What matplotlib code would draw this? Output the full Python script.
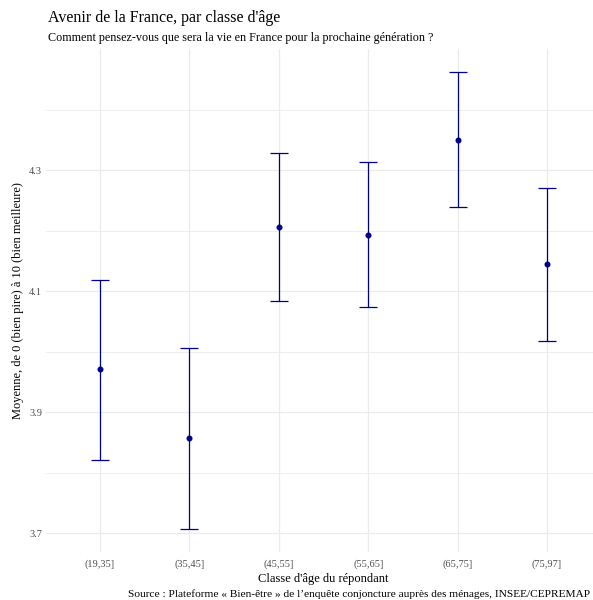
import matplotlib
matplotlib.use('Agg')
import matplotlib.pyplot as plt
import numpy as np

# data
classes = ['(19,35]', '(35,45]', '(45,55]', '(55,65]', '(65,75]', '(75,97]']
means = [3.971, 3.857, 4.206, 4.193, 4.350, 4.145]
lower = [3.821, 3.707, 4.083, 4.074, 4.239, 4.017]
upper = [4.118, 4.006, 4.328, 4.313, 4.462, 4.270]
yticks = [3.7, 3.9, 4.1, 4.3]
yminor = [3.8, 4.0, 4.2, 4.4]

plt.rcParams['font.family'] = ['Liberation Serif', 'DejaVu Serif']

fig = plt.figure(figsize=(5.93, 6.0), dpi=100)
left_px, right_px = 46.4, 600.6
ax = fig.add_axes([left_px / 593, 1 - 552 / 600, (right_px - left_px) / 593, (552 - 49) / 600])

x = np.arange(len(classes))
col = '#00008B'

ax.vlines(x, lower, upper, color=col, lw=0.9, zorder=3)
ax.hlines(lower, x - 0.1, x + 0.1, color=col, lw=0.9, zorder=3)
ax.hlines(upper, x - 0.1, x + 0.1, color=col, lw=0.9, zorder=3)
ax.scatter(x, means, color=col, s=11, zorder=4)

ax.set_xlim(-0.6, len(classes) - 0.4)
ax.set_ylim(3.669, 4.500)
ax.set_xticks(x)
ax.set_xticklabels(classes)
ax.set_yticks(yticks)
ax.set_yticklabels([str(v) for v in yticks])
ax.set_yticks(yminor, minor=True)

ax.grid(True, which='major', color='#EBEBEB', lw=0.9)
ax.grid(True, which='minor', axis='y', color='#EBEBEB', lw=0.6)
ax.set_axisbelow(True)
for s in ax.spines.values():
    s.set_visible(False)
ax.tick_params(which='both', length=0, labelsize=7.5, labelcolor='#4D4D4D')
ax.tick_params(axis='x', pad=5)
ax.tick_params(axis='y', pad=3)

ax.set_xlabel("Classe d'âge du répondant", fontsize=9, labelpad=3)
ax.set_ylabel('Moyenne, de 0 (bien pire) à 10 (bien meilleure)', fontsize=9, labelpad=4)

fig.text(left_px / 593 + 0.003, 1 - 18 / 600, "Avenir de la France, par classe d'âge",
         fontsize=11.5, va='center', ha='left')
fig.text(left_px / 593 + 0.003, 1 - 38 / 600,
         'Comment pensez-vous que sera la vie en France pour la prochaine génération ?',
         fontsize=8.7, va='center', ha='left')
fig.text(590 / 593, 1 - 594 / 600,
         'Source : Plateforme « Bien-être » de l\u2019enquête conjoncture auprès des ménages, INSEE/CEPREMAP',
         fontsize=8.2, va='center', ha='right')

fig.savefig('out.png', dpi=100)
